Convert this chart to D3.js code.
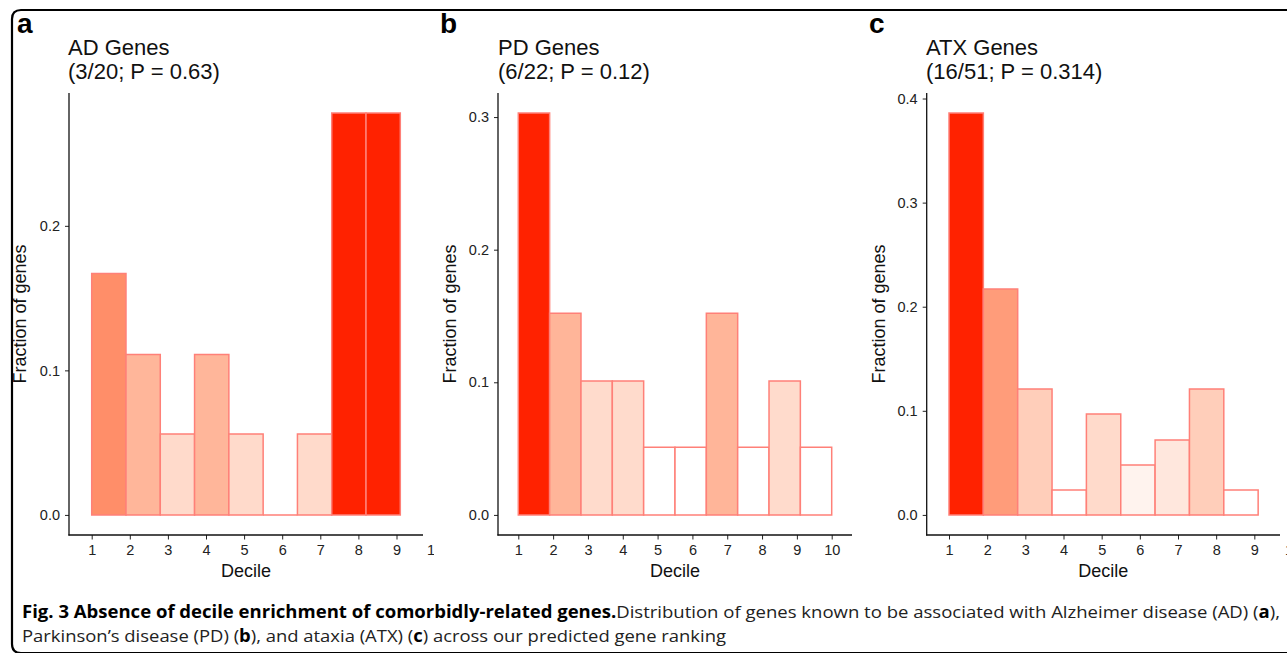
<!DOCTYPE html>
<html><head><meta charset="utf-8">
<script src="https://cdn.jsdelivr.net/npm/d3@7"></script>
<style>html,body{margin:0;padding:0;background:#fff;overflow:hidden}</style>
</head><body><svg id="c" width="1287" height="653"></svg>
<script>
// ---- data ----
const deciles = [1, 2, 3, 4, 5, 6, 7, 8, 9, 10];
const panelLetters = ["a", "b", "c"];
const panelTitles = ["AD Genes", "PD Genes", "ATX Genes"];
const panelSubtitles = ["(3/20; P = 0.63)", "(6/22; P = 0.12)", "(16/51; P = 0.314)"];
const adFraction = [0.167, 0.111, 0.056, 0.111, 0.056, 0.000, 0.056, 0.278, 0.278];
const pdFraction = [0.303, 0.152, 0.101, 0.101, 0.051, 0.051, 0.152, 0.051, 0.101, 0.051];
const atxFraction = [0.386, 0.217, 0.121, 0.024, 0.097, 0.048, 0.072, 0.121, 0.024];
const adYTicks = [0, 0.1, 0.2];
const pdYTicks = [0, 0.1, 0.2, 0.3];
const atxYTicks = [0, 0.1, 0.2, 0.3, 0.4];
const binStart = 1, binWidth = 0.9;
const xAxisTitle = "Decile", yAxisTitle = "Fraction of genes";

// ---- layout ----
const svg = d3.select("#c");
const W = 1287, H = 653;
const plotTop = 93, plotBottom = 535;
const chartFont = "'Liberation Sans', Arial, Helvetica, sans-serif";
const barStroke = "#ff8078", hiRed = "#ff2200";

const panels = [
  {values: adFraction, yTicks: adYTicks, left: 69, right: 423, x1: 91.7, x10: 434.6, clip: 434, letterX: 17, titleX: 68, ylabX: 26},
  {values: pdFraction, yTicks: pdYTicks, left: 498, right: 852, x1: 518.3, x10: 831.7, clip: 860, letterX: 440, titleX: 498, ylabX: 455.5},
  {values: atxFraction, yTicks: atxYTicks, left: 926.7, right: 1280, x1: 949, x10: 1292.5, clip: 1287, letterX: 869, titleX: 926, ylabX: 884.5}
];

// frame
svg.append("path")
  .attr("d", `M${W},10 H21 Q12,10 12,19 V644 Q12,653 21,653 H${W}`)
  .attr("fill", "none").attr("stroke", "#000").attr("stroke-width", 2.2);

panels.forEach((p, i) => {
  const clipId = "clip" + i;
  svg.append("clipPath").attr("id", clipId).append("rect")
    .attr("x", p.left - 80).attr("y", 0).attr("width", p.clip - (p.left - 80)).attr("height", H);
  const g = svg.append("g").attr("clip-path", `url(#${clipId})`);

  const maxV = d3.max(p.values);
  const y = d3.scaleLinear().domain([-0.05 * maxV, 1.05 * maxV]).range([plotBottom, plotTop]);
  const x = d3.scaleLinear().domain([1, 10]).range([p.x1, p.x10]);
  const fill = d3.scaleLinear().domain(d3.extent(p.values)).range(["#ffffff", hiRed]).interpolate(d3.interpolateLab);

  // bars
  g.append("g").selectAll("path").data(p.values).join("path")
    .attr("d", (v, k) => {
      const x0 = x(binStart + binWidth * k), x1 = x(binStart + binWidth * (k + 1));
      return `M${x0},${y(0)} V${y(v)} H${x1} V${y(0)} Z`;
    })
    .attr("fill", v => fill(v))
    .attr("stroke", barStroke).attr("stroke-width", 1.5);

  // axes
  const ya = g.append("g").attr("transform", `translate(${p.left},0)`)
    .call(d3.axisLeft(y).tickValues(p.yTicks).tickFormat(d3.format(".1f")).tickSize(4).tickPadding(5));
  ya.select(".domain").remove();
  ya.selectAll("text").attr("font-family", chartFont).attr("font-size", 14.5).attr("fill", "#222");
  ya.selectAll("line").attr("stroke", "#222").attr("stroke-width", 1);

  const xa = g.append("g").attr("transform", `translate(0,${plotBottom})`)
    .call(d3.axisBottom(x).tickValues(deciles).tickFormat(d3.format("d")).tickSize(4.5).tickPadding(5.2));
  xa.select(".domain").remove();
  xa.selectAll("text").attr("font-family", chartFont).attr("font-size", 14.5).attr("fill", "#222");
  xa.selectAll("line").attr("stroke", "#222").attr("stroke-width", 1);

  g.append("line").attr("x1", p.left).attr("x2", p.left).attr("y1", plotTop).attr("y2", plotBottom + 0.6)
    .attr("stroke", "#111").attr("stroke-width", 1.3);
  g.append("line").attr("x1", p.left - 0.6).attr("x2", p.right).attr("y1", plotBottom).attr("y2", plotBottom)
    .attr("stroke", "#111").attr("stroke-width", 1.3);

  // axis titles
  g.append("text").attr("x", (p.left + p.right) / 2).attr("y", 577)
    .attr("text-anchor", "middle").attr("font-family", chartFont).attr("font-size", 18).attr("fill", "#111")
    .text(xAxisTitle);
  g.append("text").attr("transform", `translate(${p.ylabX},314) rotate(-90)`)
    .attr("text-anchor", "middle").attr("font-family", chartFont).attr("font-size", 18).attr("fill", "#111")
    .text(yAxisTitle);

  // titles
  svg.append("text").attr("x", p.titleX).attr("y", 55).attr("font-family", chartFont).attr("font-size", 22).attr("fill", "#111")
    .text(panelTitles[i]);
  svg.append("text").attr("x", p.titleX).attr("y", 78.5).attr("font-family", chartFont).attr("font-size", 22).attr("fill", "#111")
    .text(panelSubtitles[i]);
  svg.append("text").attr("x", p.letterX).attr("y", 33).attr("font-family", chartFont).attr("font-size", 28)
    .attr("font-weight", "bold").attr("fill", "#000").text(panelLetters[i]);
});

// caption
const capFont = "'Open Sans', 'Noto Sans', sans-serif";
const line1 = svg.append("text").attr("x", 22).attr("y", 618).attr("font-family", capFont).attr("font-size", 17)
  .attr("fill", "#222").attr("textLength", 1258).attr("lengthAdjust", "spacingAndGlyphs");
line1.append("tspan").attr("font-weight", "bold").attr("fill", "#000").text("Fig. 3 Absence of decile enrichment of comorbidly-related genes.");
line1.append("tspan").text("Distribution of genes known to be associated with Alzheimer disease (AD) (");
line1.append("tspan").attr("font-weight", "bold").attr("fill", "#000").text("a");
line1.append("tspan").text("),");

const line2 = svg.append("text").attr("x", 22).attr("y", 642).attr("font-family", capFont).attr("font-size", 17)
  .attr("fill", "#222").attr("textLength", 704).attr("lengthAdjust", "spacingAndGlyphs");
line2.append("tspan").text("Parkinson\u2019s disease (PD) (");
line2.append("tspan").attr("font-weight", "bold").attr("fill", "#000").text("b");
line2.append("tspan").text("), and ataxia (ATX) (");
line2.append("tspan").attr("font-weight", "bold").attr("fill", "#000").text("c");
line2.append("tspan").text(") across our predicted gene ranking");
</script>
</body></html>
